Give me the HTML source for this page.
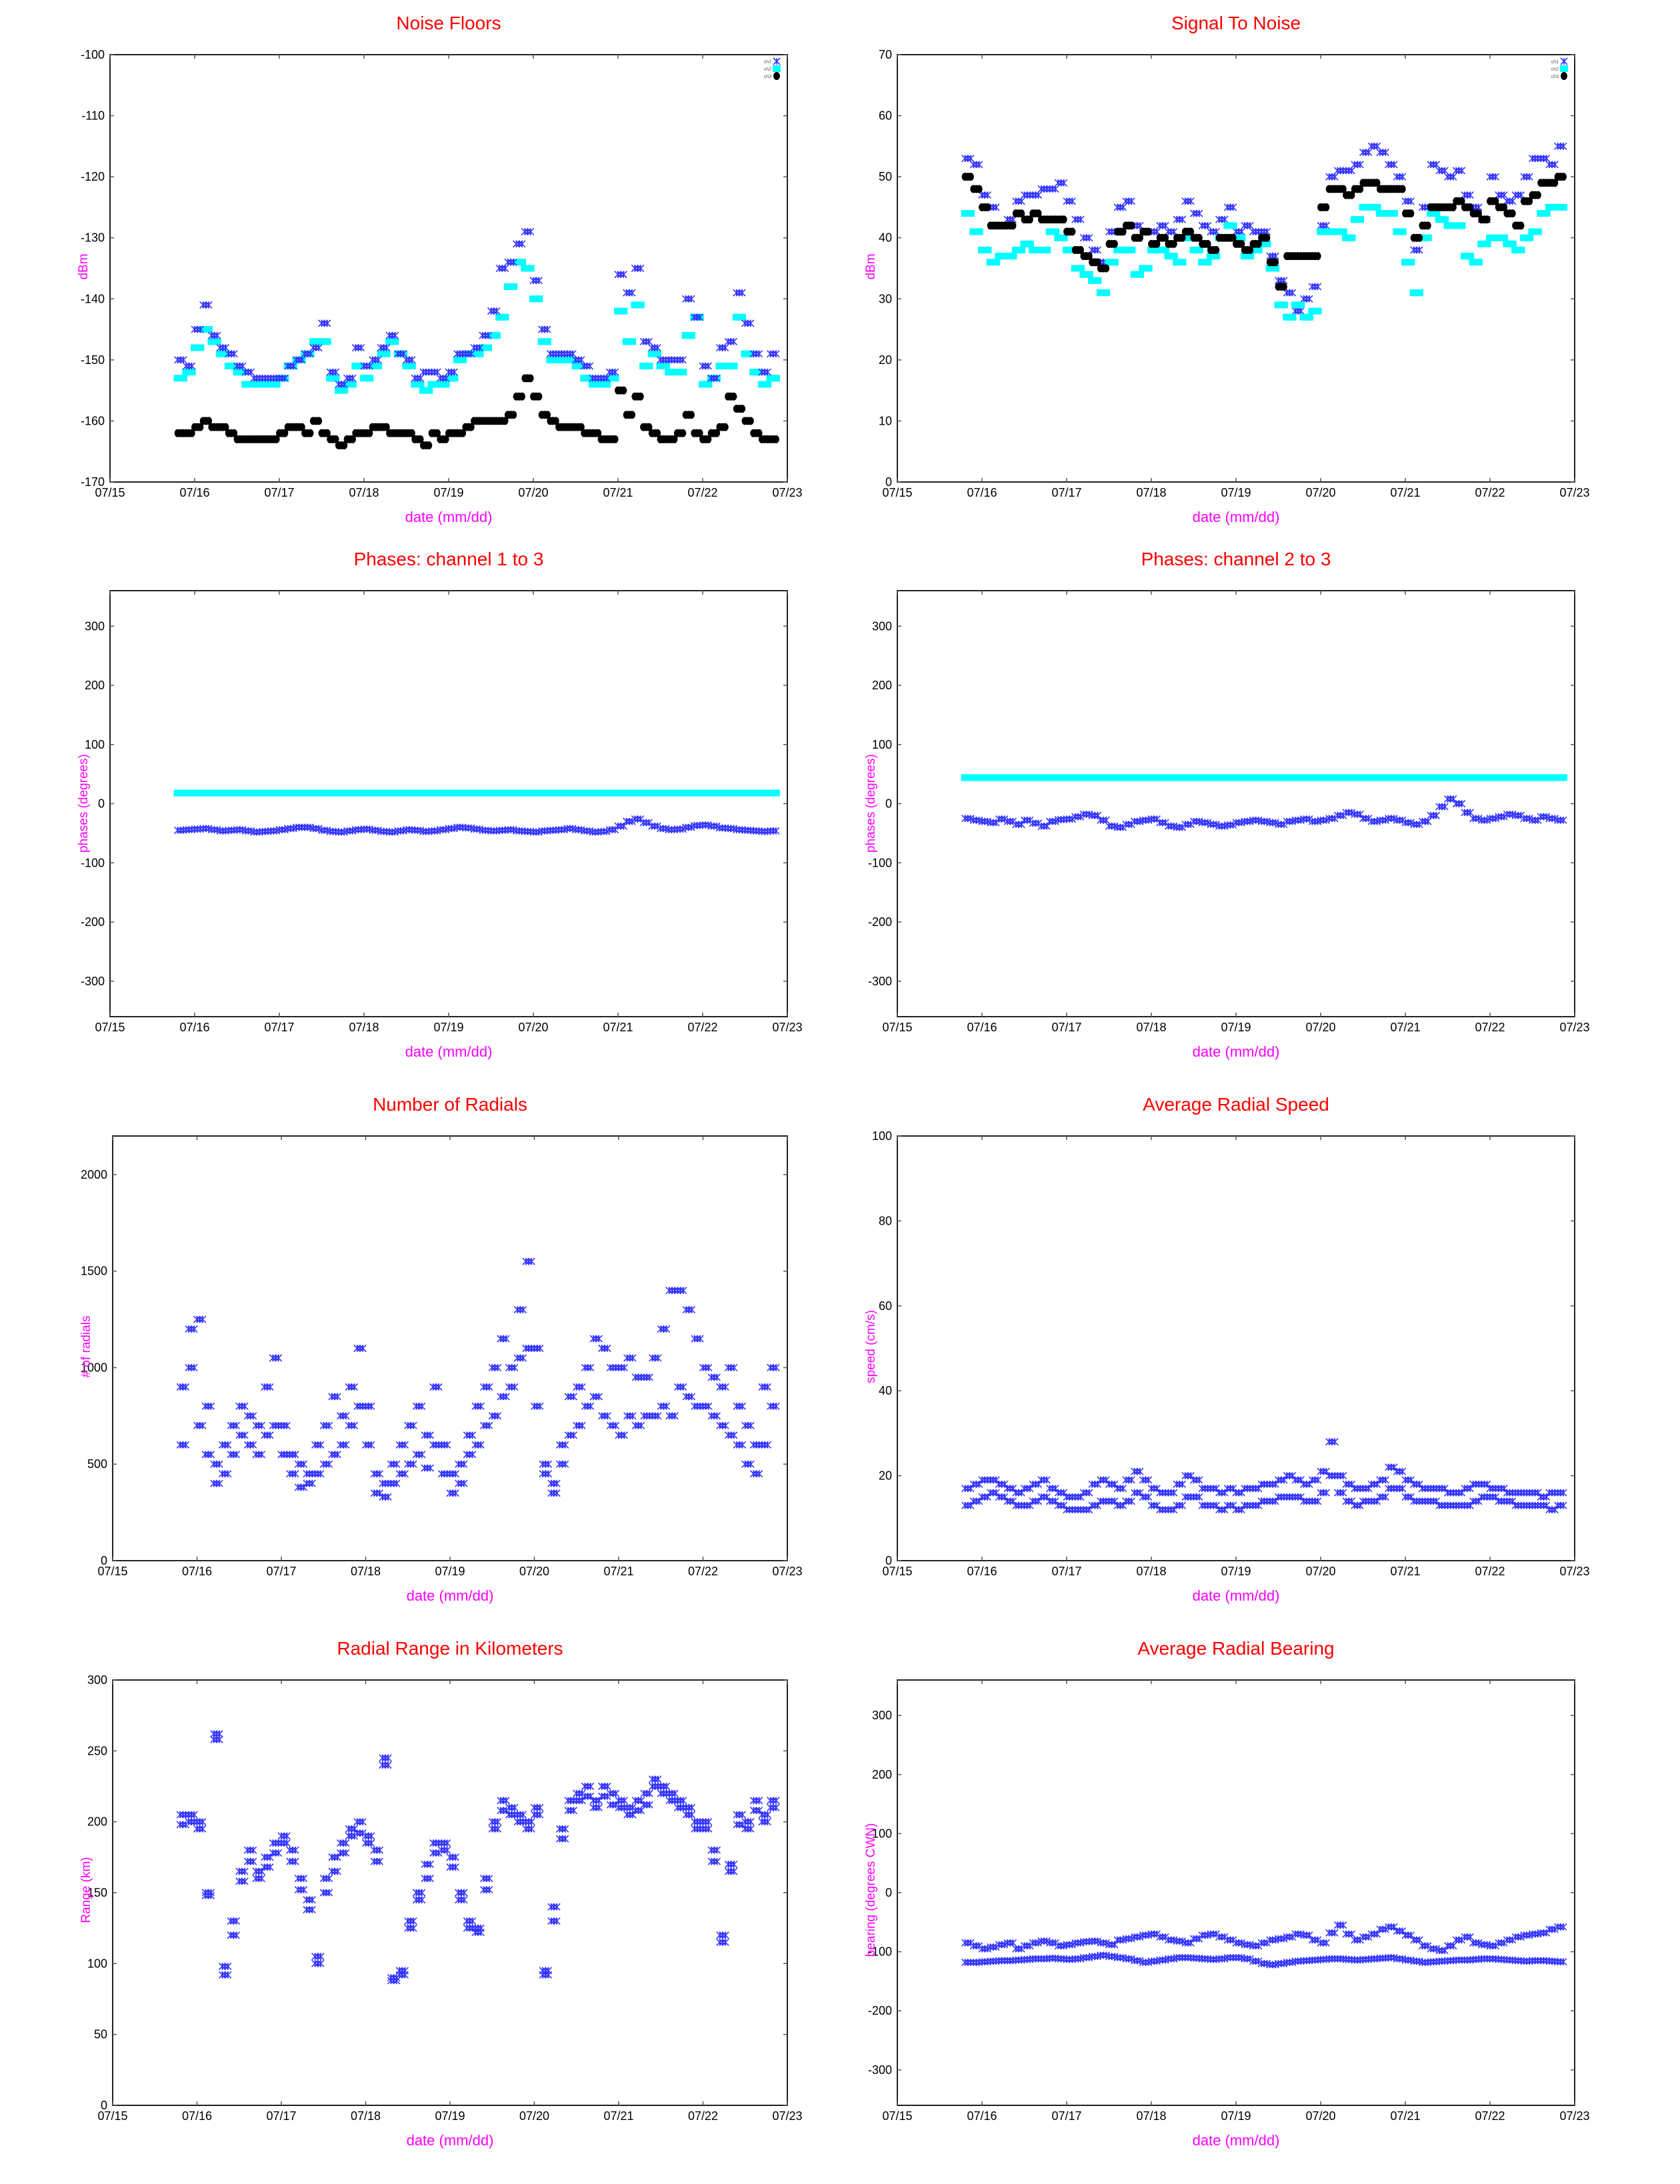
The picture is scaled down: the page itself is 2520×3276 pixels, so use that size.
<!DOCTYPE html>
<html><head><meta charset="utf-8">
<style>
html,body{margin:0;padding:0;background:#fff;}
svg{display:block;font-family:"Liberation Sans",sans-serif;}
</style></head>
<body>
<svg id="root" width="2520" height="3276" viewBox="0 0 2520 3276" xmlns="http://www.w3.org/2000/svg"></svg>
<script>
// ---- data (sampled every 0.1 day starting 07/15 + 0.8) ----
const dayTicks = ["07/15","07/16","07/17","07/18","07/19","07/20","07/21","07/22","07/23"];
const noiseCh1 = [-150,-151,-145,-141,-146,-148,-149,-151,-152,-153,-153,-153,-153,-151,-150,-149,-148,-144,-152,-154,-153,-148,-151,-150,-148,-146,-149,-150,-153,-152,-152,-153,-152,-149,-149,-148,-146,-142,-135,-134,-131,-129,-137,-145,-149,-149,-149,-150,-151,-153,-153,-152,-136,-139,-135,-147,-148,-150,-150,-150,-140,-143,-151,-153,-148,-147,-139,-144,-149,-152,-149];
const noiseCh2 = [-153,-152,-148,-145,-147,-149,-151,-152,-154,-154,-154,-154,-153,-151,-150,-149,-147,-147,-153,-155,-154,-151,-153,-151,-149,-147,-149,-151,-154,-155,-154,-154,-153,-150,-149,-149,-148,-146,-143,-138,-134,-135,-140,-147,-150,-150,-150,-151,-153,-154,-154,-153,-142,-147,-141,-151,-149,-151,-152,-152,-146,-143,-154,-153,-151,-151,-143,-149,-152,-154,-153];
const noiseCh3 = [-162,-162,-161,-160,-161,-161,-162,-163,-163,-163,-163,-163,-162,-161,-161,-162,-160,-162,-163,-164,-163,-162,-162,-161,-161,-162,-162,-162,-163,-164,-162,-163,-162,-162,-161,-160,-160,-160,-160,-159,-156,-153,-156,-159,-160,-161,-161,-161,-162,-162,-163,-163,-155,-159,-156,-161,-162,-163,-163,-162,-159,-162,-163,-162,-161,-156,-158,-160,-162,-163,-163];
const snrCh1 = [53,52,47,45,42,43,46,47,47,48,48,49,46,43,40,38,36,41,45,46,42,41,41,42,41,43,46,44,42,41,43,45,41,42,41,41,37,33,31,28,30,32,42,50,51,51,52,54,55,54,52,50,46,38,45,52,51,50,51,47,45,43,50,47,46,47,50,53,53,52,55];
const snrCh2 = [44,41,38,36,37,37,38,39,38,38,41,40,38,35,34,33,31,36,38,38,34,35,38,38,37,36,40,38,36,37,40,42,40,37,38,39,35,29,27,29,27,28,41,41,41,40,43,45,45,44,44,41,36,31,40,44,43,42,42,37,36,39,40,40,39,38,40,41,44,45,45];
const snrCh3 = [50,48,45,42,42,42,44,43,44,43,43,43,41,38,37,36,35,39,41,42,40,41,39,40,39,40,41,40,39,38,40,40,39,38,39,40,36,32,37,37,37,37,45,48,48,47,48,49,49,48,48,48,44,40,42,45,45,45,46,45,44,43,46,45,44,42,46,47,49,49,50];
const phase13Ch1 = [-45,-44,-43,-42,-44,-46,-45,-44,-46,-48,-47,-46,-44,-42,-40,-40,-42,-45,-47,-48,-46,-44,-43,-45,-47,-48,-46,-44,-45,-47,-46,-44,-42,-40,-41,-43,-45,-46,-45,-44,-46,-47,-48,-46,-45,-44,-42,-44,-46,-48,-47,-44,-38,-30,-26,-32,-38,-42,-44,-43,-40,-37,-36,-38,-41,-42,-44,-45,-46,-47,-46];
const phase13Ch2 = [18,18,18,18,18,18,18,18,18,18,18,18,18,18,18,18,18,18,18,18,18,18,18,18,18,18,18,18,18,18,18,18,18,18,18,18,18,18,18,18,18,18,18,18,18,18,18,18,18,18,18,18,18,18,18,18,18,18,18,18,18,18,18,18,18,18,18,18,18,18,18];
const phase23Ch1 = [-25,-28,-30,-32,-26,-30,-35,-28,-33,-38,-30,-27,-26,-22,-18,-20,-28,-38,-40,-35,-30,-28,-26,-32,-38,-40,-35,-30,-32,-35,-38,-36,-32,-30,-28,-30,-32,-35,-30,-28,-26,-30,-28,-25,-20,-15,-18,-25,-30,-28,-25,-28,-32,-35,-30,-20,-5,8,0,-15,-25,-28,-25,-22,-18,-20,-25,-28,-22,-25,-28];
const phase23Ch2 = [44,44,44,44,44,44,44,44,44,44,44,44,44,44,44,44,44,44,44,44,44,44,44,44,44,44,44,44,44,44,44,44,44,44,44,44,44,44,44,44,44,44,44,44,44,44,44,44,44,44,44,44,44,44,44,44,44,44,44,44,44,44,44,44,44,44,44,44,44,44,44];
const radialsA = [900,1000,1250,800,500,600,700,650,750,700,900,1050,700,550,500,450,600,700,850,750,900,1100,800,450,400,500,600,700,800,650,900,600,450,500,650,800,900,1000,1150,1000,1300,1550,1100,500,400,600,850,900,1000,1150,1100,1000,1000,1050,950,950,1050,1200,1400,1400,1300,1150,1000,950,900,1000,800,700,600,900,1000];
const radialsB = [600,1200,700,550,400,450,550,800,600,550,650,700,550,450,380,400,450,500,550,600,700,800,600,350,330,400,450,500,550,480,600,450,350,400,550,600,700,750,850,900,1050,1100,800,450,350,500,650,700,800,850,750,700,650,750,700,750,750,800,750,900,850,800,800,750,700,650,600,500,450,600,800];
const speedUpper = [17,18,19,19,18,17,16,17,18,19,17,16,15,15,16,18,19,18,17,19,21,19,17,16,16,18,20,19,17,17,16,17,16,17,17,18,18,19,20,19,18,19,21,28,20,18,17,17,18,19,22,21,19,18,17,17,17,16,16,17,18,18,17,17,16,16,16,16,15,16,16];
const speedLower = [13,14,15,16,15,14,13,13,14,15,14,13,12,12,12,13,14,14,13,14,16,15,13,12,12,13,15,15,13,13,12,13,12,13,13,14,14,15,15,15,14,14,16,20,16,14,13,14,14,15,17,17,15,14,14,14,13,13,13,13,14,15,15,14,14,13,13,13,13,12,13];
const rangeA = [205,205,200,150,262,98,130,165,180,165,175,185,190,180,160,145,105,160,175,185,195,200,190,180,245,90,95,130,150,170,185,185,175,150,130,125,160,200,215,210,205,200,210,95,140,195,215,220,225,215,225,220,215,210,215,220,230,225,220,215,210,200,200,180,120,170,205,200,215,205,215];
const rangeB = [198,200,195,148,258,92,120,158,172,160,168,178,185,172,152,138,100,150,165,178,190,192,185,172,240,88,92,125,145,160,178,180,168,145,125,122,152,195,208,205,200,195,205,92,130,188,208,215,218,210,218,212,210,205,208,212,225,220,215,210,205,195,195,172,115,165,198,195,208,200,210];
const bearingUpper = [-85,-90,-95,-92,-88,-85,-95,-90,-85,-82,-85,-90,-88,-85,-83,-82,-85,-88,-80,-78,-75,-72,-70,-75,-80,-82,-85,-78,-72,-70,-75,-80,-85,-88,-90,-85,-80,-78,-75,-70,-72,-80,-85,-68,-55,-70,-80,-75,-70,-62,-58,-65,-72,-80,-90,-95,-98,-90,-80,-75,-85,-88,-90,-85,-80,-75,-72,-70,-68,-62,-58];
const bearingLower = [-118,-118,-117,-116,-115,-115,-114,-113,-112,-112,-111,-112,-113,-112,-110,-108,-106,-108,-110,-112,-115,-118,-116,-114,-112,-110,-110,-111,-112,-113,-112,-110,-110,-112,-116,-120,-122,-120,-118,-116,-115,-114,-113,-112,-112,-113,-114,-113,-112,-111,-110,-112,-114,-116,-118,-117,-116,-115,-114,-114,-113,-112,-112,-113,-114,-115,-116,-115,-115,-116,-117];
const noiseYTicks = [-100,-110,-120,-130,-140,-150,-160,-170];
const snrYTicks = [70,60,50,40,30,20,10,0];
const phaseYTicks = [300,200,100,0,-100,-200,-300];
const radialYTicks = [2000,1500,1000,500,0];
const speedYTicks = [100,80,60,40,20,0];
const rangeYTicks = [300,250,200,150,100,50,0];

const NS = "http://www.w3.org/2000/svg";
const root = document.getElementById('root');
function mk(tag, attrs, parent){
  const e = document.createElementNS(NS, tag);
  for (const k in attrs) e.setAttribute(k, attrs[k]);
  (parent||root).appendChild(e);
  return e;
}
const T0 = 15.8, DT = 0.1;
const SUB = [0, 0.033, 0.066];

function chart(c){
  const g = mk('g', {});
  
  
  const w = c.x1 - c.x0, h = c.y1 - c.y0;
  const sx = t => c.x0 + (t - 15) / 8 * w;
  const sy = v => c.y1 - (v - c.ymin) / (c.ymax - c.ymin) * h;
  const ti = mk('text', {x:(c.x0+c.x1)/2, y:c.y0 - 38, 'text-anchor':'middle', 'font-size':28, fill:'#ff0000'}, g);
  ti.textContent = c.title;
  
  
  const fr = mk('rect', {x:c.x0, y:c.y0, width:w, height:h, fill:'none', stroke:'#222', 'stroke-width':2}, g);
  
  
  dayTicks.forEach((lab, i) => {
    const x = sx(15 + i);
    mk('line', {x1:x, y1:c.y1, x2:x, y2:c.y1-6, stroke:'#555', 'stroke-width':1.5}, g);
    mk('line', {x1:x, y1:c.y0, x2:x, y2:c.y0+6, stroke:'#555', 'stroke-width':1.5}, g);
    const tx = mk('text', {x:x, y:c.y1+22, 'text-anchor':'middle', 'font-size':18, fill:'#000'}, g);
    tx.textContent = lab;
    
    
  });
  c.yticks.forEach(v => {
    const y = sy(v);
    mk('line', {x1:c.x0, y1:y, x2:c.x0+6, y2:y, stroke:'#555', 'stroke-width':1.5}, g);
    mk('line', {x1:c.x1, y1:y, x2:c.x1-6, y2:y, stroke:'#555', 'stroke-width':1.5}, g);
    const ty = mk('text', {x:c.x0-8, y:y+6, 'text-anchor':'end', 'font-size':18, fill:'#000'}, g);
    ty.textContent = String(v);
    
    
  });
  const xt = mk('text', {x:(c.x0+c.x1)/2, y:c.y1+60, 'text-anchor':'middle', 'font-size':22, fill:'#ff00ff'}, g);
  xt.textContent = 'date (mm/dd)';
  
  
  const ycx = c.x0 - 34, ycy = c.ylabY;
  const yt = mk('text', {x:ycx, y:ycy, 'text-anchor':'middle', 'font-size':19, fill:'#ff00ff', transform:'rotate(-90 '+ycx+' '+ycy+')'}, g);
  yt.textContent = c.ylabel;
  
  
  c.series.forEach(s => {
    const sg = mk('g', {}, g);
    
    
    s.data.forEach((v, i) => {
      SUB.forEach(d => drawMarker(s.kind, sx(T0 + i*DT + d), sy(v), sg));
    });
  });
  if (c.legend){
    const lg = mk('g', {}, g);
    
    
    ['ch1','ch2','ch3'].forEach((n, i) => {
      const y = c.y0 + 10 + i*11;
      const lt = mk('text', {x:c.x1-24, y:y+3, 'text-anchor':'end', 'font-size':7, fill:'#555'}, lg);
      lt.textContent = n;
      
      
      drawMarker(['x','sq','dot'][i], c.x1-16, y, lg);
    });
  }
}
function drawMarker(kind, x, y, p){
  if (kind === 'x'){
    mk('path', {d:'M'+(x-5)+' '+(y-5)+'L'+(x+5)+' '+(y+5)+'M'+(x-5)+' '+(y+5)+'L'+(x+5)+' '+(y-5)+'M'+x+' '+(y-5)+'L'+x+' '+(y+5), stroke:'#3333ff', 'stroke-width':1.6, fill:'none'}, p);
  } else if (kind === 'sq'){
    mk('rect', {x:x-6, y:y-5, width:12, height:10, fill:'#00ffff'}, p);
  } else {
    mk('ellipse', {cx:x, cy:y, rx:5, ry:6, fill:'#000'}, p);
  }
}

const L = {x0:165, x1:1181}, R = {x0:1346, x1:2362};
chart({name:'noise-floors-chart', title:'Noise Floors', x0:L.x0, x1:L.x1, y0:82, y1:723, ymin:-170, ymax:-100, yticks:noiseYTicks, ylabel:'dBm', ylabY:400, legend:true,
  series:[{name:'series-ch2', kind:'sq', data:noiseCh2},{name:'series-ch1', kind:'x', data:noiseCh1},{name:'series-ch3', kind:'dot', data:noiseCh3}]});
chart({name:'signal-to-noise-chart', title:'Signal To Noise', x0:R.x0, x1:R.x1, y0:82, y1:723, ymin:0, ymax:70, yticks:snrYTicks, ylabel:'dBm', ylabY:400, legend:true,
  series:[{name:'series-ch1', kind:'x', data:snrCh1},{name:'series-ch2', kind:'sq', data:snrCh2},{name:'series-ch3', kind:'dot', data:snrCh3}]});
chart({name:'phases-1-3-chart', title:'Phases: channel 1 to 3', x0:L.x0, x1:L.x1, y0:886, y1:1525, ymin:-360, ymax:360, yticks:phaseYTicks, ylabel:'phases (degrees)', ylabY:1205,
  series:[{name:'series-phase-cyan', kind:'sq', data:phase13Ch2},{name:'series-phase-blue', kind:'x', data:phase13Ch1}]});
chart({name:'phases-2-3-chart', title:'Phases: channel 2 to 3', x0:R.x0, x1:R.x1, y0:886, y1:1525, ymin:-360, ymax:360, yticks:phaseYTicks, ylabel:'phases (degrees)', ylabY:1205,
  series:[{name:'series-phase-cyan', kind:'sq', data:phase23Ch2},{name:'series-phase-blue', kind:'x', data:phase23Ch1}]});
chart({name:'number-of-radials-chart', title:'Number of Radials', x0:169, x1:L.x1, y0:1704, y1:2341, ymin:0, ymax:2200, yticks:radialYTicks, ylabel:'# of radials', ylabY:2020,
  series:[{name:'series-radials-a', kind:'x', data:radialsA},{name:'series-radials-b', kind:'x', data:radialsB}]});
chart({name:'average-radial-speed-chart', title:'Average Radial Speed', x0:R.x0, x1:R.x1, y0:1704, y1:2341, ymin:0, ymax:100, yticks:speedYTicks, ylabel:'speed (cm/s)', ylabY:2020,
  series:[{name:'series-speed-upper', kind:'x', data:speedUpper},{name:'series-speed-lower', kind:'x', data:speedLower}]});
chart({name:'radial-range-chart', title:'Radial Range in Kilometers', x0:169, x1:L.x1, y0:2520, y1:3158, ymin:0, ymax:300, yticks:rangeYTicks, ylabel:'Range (km)', ylabY:2835,
  series:[{name:'series-range-a', kind:'x', data:rangeA},{name:'series-range-b', kind:'x', data:rangeB}]});
chart({name:'average-radial-bearing-chart', title:'Average Radial Bearing', x0:R.x0, x1:R.x1, y0:2520, y1:3158, ymin:-360, ymax:360, yticks:phaseYTicks, ylabel:'bearing (degrees CWN)', ylabY:2835,
  series:[{name:'series-bearing-upper', kind:'x', data:bearingUpper},{name:'series-bearing-lower', kind:'x', data:bearingLower}]});
</script>
</body></html>
